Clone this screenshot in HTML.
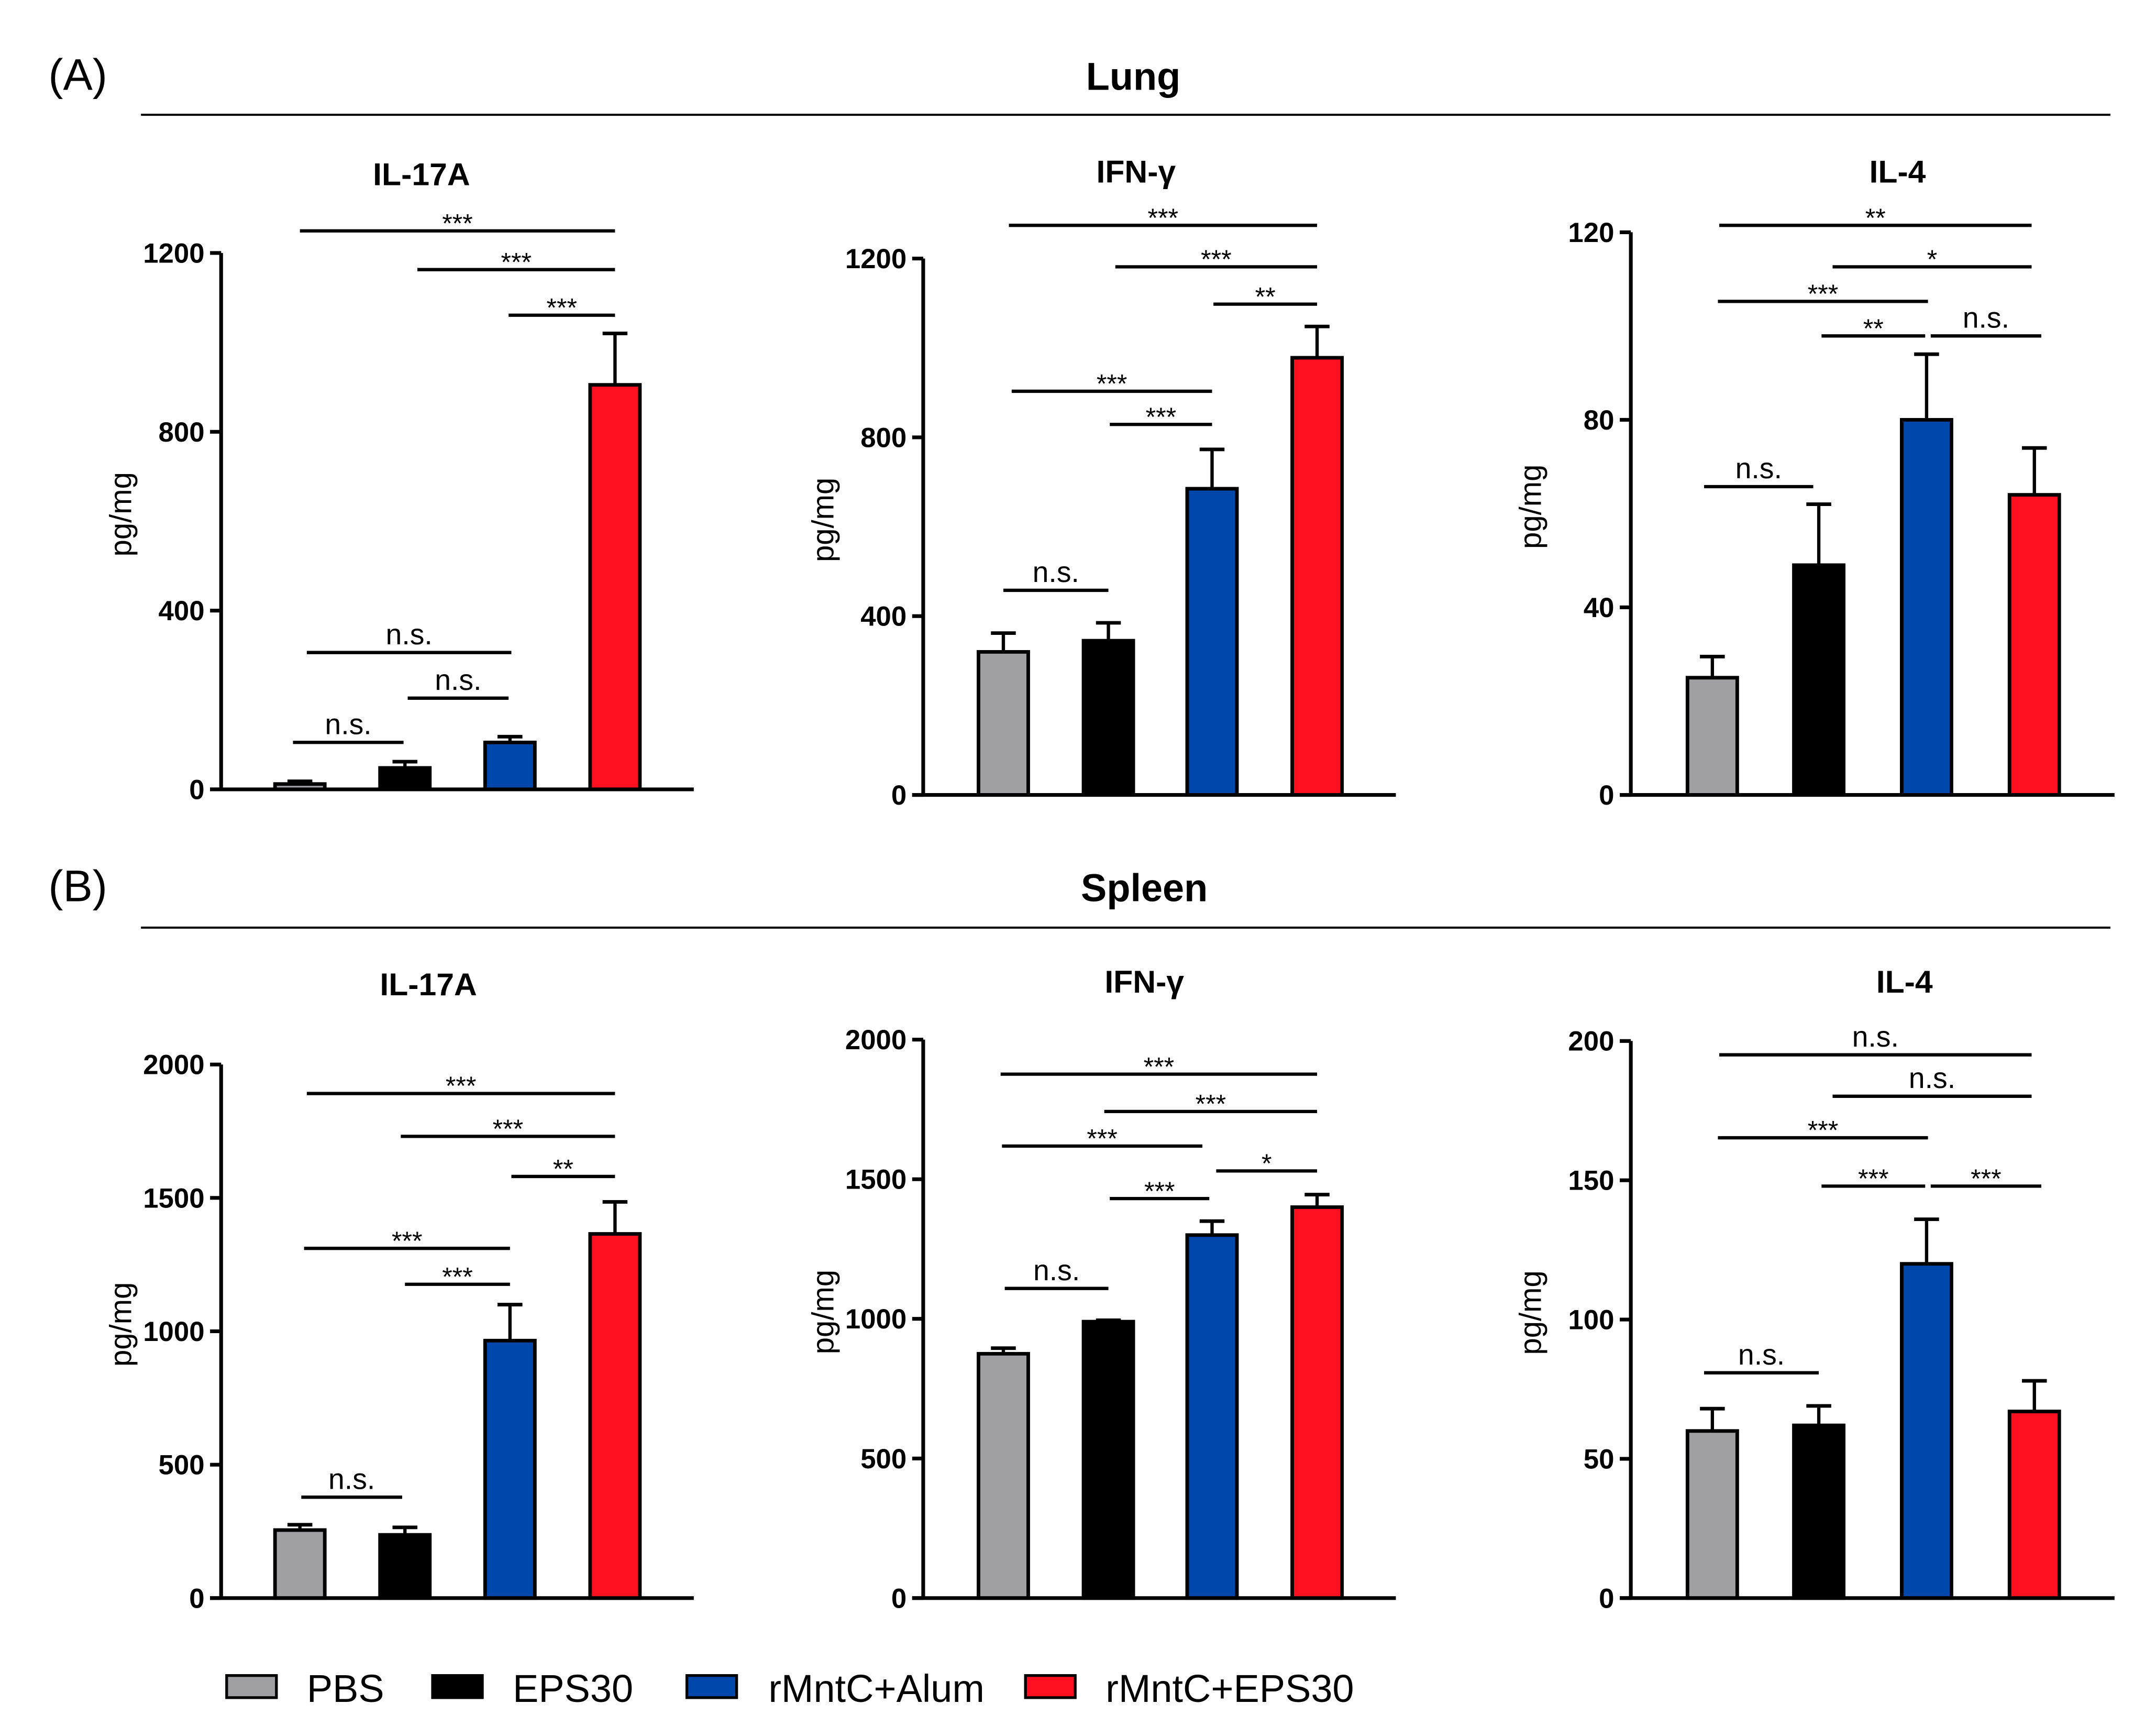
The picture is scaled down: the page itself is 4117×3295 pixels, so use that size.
<!DOCTYPE html>
<html><head><meta charset="utf-8"><style>
html,body{margin:0;padding:0;background:#fff}
svg{display:block}
text{font-family:"Liberation Sans",Arial,sans-serif;fill:#000}
</style></head><body>
<svg id="chart" xmlns="http://www.w3.org/2000/svg" width="4117" height="3295" viewBox="0 0 1560 1248.5">
<text x="35" y="65" font-size="32">(A)</text>
<text x="820" y="65" font-size="28" font-weight="bold" text-anchor="middle">Lung</text>
<line x1="102" y1="83" x2="1527" y2="83" stroke="#000" stroke-width="1.5"/>
<text x="35" y="652" font-size="32">(B)</text>
<text x="828" y="652" font-size="28" font-weight="bold" text-anchor="middle">Spleen</text>
<line x1="102" y1="671" x2="1527" y2="671" stroke="#000" stroke-width="1.5"/>
<g id="panels"></g>
<g>
 <rect x="164" y="1212" width="36" height="16" fill="#a0a0a4" stroke="#000" stroke-width="2"/>
 <text x="222" y="1231" font-size="28">PBS</text>
 <rect x="313" y="1212" width="36" height="16" fill="#000" stroke="#000" stroke-width="2"/>
 <text x="371" y="1231" font-size="28">EPS30</text>
 <rect x="497" y="1212" width="36" height="16" fill="#0047ab" stroke="#000" stroke-width="2"/>
 <text x="556" y="1231" font-size="28">rMntC+Alum</text>
 <rect x="742" y="1212" width="36" height="16" fill="#ff1020" stroke="#000" stroke-width="2"/>
 <text x="800" y="1231" font-size="28">rMntC+EPS30</text>
</g>
</svg>
<script>
var groups = ['PBS','EPS30','rMntC+Alum','rMntC+EPS30'];
var colors = ['#a0a0a4','#000000','#0047ab','#ff1020'];
var lungIL17Means = [12, 48, 105, 905];
var lungIL17Err = [18, 62, 118, 1020];
var lungIL17Ticks = [0, 400, 800, 1200];
var lungIFNMeans = [320, 345, 685, 978];
var lungIFNErr = [362, 385, 773, 1048];
var lungIFNTicks = [0, 400, 800, 1200];
var lungIL4Means = [25, 49, 80, 64];
var lungIL4Err = [29.5, 62, 94, 74];
var lungIL4Ticks = [0, 40, 80, 120];
var spleenIL17Means = [255, 237, 965, 1365];
var spleenIL17Err = [275, 265, 1100, 1485];
var spleenIL17Ticks = [0, 500, 1000, 1500, 2000];
var spleenIFNMeans = [875, 990, 1300, 1400];
var spleenIFNErr = [895, 995, 1350, 1445];
var spleenIFNTicks = [0, 500, 1000, 1500, 2000];
var spleenIL4Means = [60, 62, 120, 67];
var spleenIL4Err = [68, 69, 136, 78];
var spleenIL4Ticks = [0, 50, 100, 150, 200];

var panels = [
 {id:'lung-il17a', title:'IL-17A', tx:305, ty:134, ax:160, y0:571, ytop:183, xend:502, c:[217,293,369,445], m:lungIL17Means, e:lungIL17Err, t:lungIL17Ticks,
  sig:[[217,445,167,'***'],[302,445,195,'***'],[368,445,228,'***'],[222,370,472,'n.s.'],[295,368,505,'n.s.'],[212,292,537,'n.s.']]},
 {id:'lung-ifng', title:'IFN-γ', tx:822, ty:132, ax:668, y0:575, ytop:187, xend:1010, c:[726,802,877,953], m:lungIFNMeans, e:lungIFNErr, t:lungIFNTicks,
  sig:[[730,953,163,'***'],[807,953,193,'***'],[878,953,220,'**'],[732,877,283,'***'],[803,877,307,'***'],[726,802,427,'n.s.']]},
 {id:'lung-il4', title:'IL-4', tx:1373, ty:132, ax:1180, y0:575, ytop:168, xend:1530, c:[1239,1316,1394,1472], m:lungIL4Means, e:lungIL4Err, t:lungIL4Ticks,
  sig:[[1244,1470,163,'**'],[1326,1470,193,'*'],[1243,1395,218,'***'],[1318,1393,243,'**'],[1397,1477,243,'n.s.'],[1233,1312,352,'n.s.']]},
 {id:'spleen-il17a', title:'IL-17A', tx:310, ty:720, ax:160, y0:1156, ytop:770, xend:502, c:[217,293,369,445], m:spleenIL17Means, e:spleenIL17Err, t:spleenIL17Ticks,
  sig:[[222,445,791,'***'],[290,445,822,'***'],[370,445,851,'**'],[220,369,903,'***'],[293,369,929,'***'],[218,291,1083,'n.s.']]},
 {id:'spleen-ifng', title:'IFN-γ', tx:828, ty:718, ax:668, y0:1156, ytop:752, xend:1010, c:[726,802,877,953], m:spleenIFNMeans, e:spleenIFNErr, t:spleenIFNTicks,
  sig:[[724,953,777,'***'],[799,953,804,'***'],[725,870,829,'***'],[803,875,867,'***'],[880,953,847,'*'],[727,802,932,'n.s.']]},
 {id:'spleen-il4', title:'IL-4', tx:1378, ty:718, ax:1180, y0:1156, ytop:753, xend:1530, c:[1239,1316,1394,1472], m:spleenIL4Means, e:spleenIL4Err, t:spleenIL4Ticks,
  sig:[[1244,1470,763,'n.s.'],[1326,1470,793,'n.s.'],[1243,1395,823,'***'],[1318,1393,858,'***'],[1397,1477,858,'***'],[1233,1316,993,'n.s.']]}
];
var NS='http://www.w3.org/2000/svg';
var root=document.getElementById('panels');
function mk(tag, attrs, parent){var el=document.createElementNS(NS,tag);for(var k in attrs)el.setAttribute(k,attrs[k]);parent.appendChild(el);return el;}
panels.forEach(function(p){
 var g=mk('g',{},root);
 
 
 var tmax=p.t[p.t.length-1];
 function y(v){return p.y0-(v/tmax)*(p.y0-p.ytop);}
 var tt=mk('text',{x:p.tx,y:p.ty,'font-size':23,'font-weight':'bold','text-anchor':'middle'},g);
 tt.textContent=p.title;
 
 
 var yl=mk('text',{x:0,y:0,'font-size':22,'text-anchor':'middle',transform:'translate('+(p.ax-65)+','+((p.y0+p.ytop)/2-5)+') rotate(-90)'},g);
 yl.textContent='pg/mg';
 
 
 p.m.forEach(function(v,i){
  var cx=p.c[i];
  var el=mk('line',{x1:cx,x2:cx,y1:y(v),y2:y(p.e[i]),stroke:'#000','stroke-width':2.4},g);
  
  
  var cap=mk('line',{x1:cx-9,x2:cx+9,y1:y(p.e[i]),y2:y(p.e[i]),stroke:'#000','stroke-width':2.6},g);
  
  
  var r=mk('rect',{x:cx-18,y:y(v),width:36,height:p.y0-y(v),fill:colors[i],stroke:'#000','stroke-width':2.6},g);
  
  
 });
 var ya=mk('line',{x1:p.ax,x2:p.ax,y1:p.ytop,y2:p.y0,stroke:'#000','stroke-width':2.7},g);
 
 
 var xa=mk('line',{x1:p.ax-8,x2:p.xend,y1:p.y0,y2:p.y0,stroke:'#000','stroke-width':2.7},g);
 
 
 p.t.forEach(function(t){
  var tk=mk('line',{x1:p.ax-8,x2:p.ax,y1:y(t),y2:y(t),stroke:'#000','stroke-width':2.7},g);
  
  
  var lb=mk('text',{x:p.ax-12,y:y(t)+7,'font-size':20,'font-weight':'bold','text-anchor':'end'},g);
  lb.textContent=t;
  
  
 });
 p.sig.forEach(function(s){
  var ln=mk('line',{x1:s[0],x2:s[1],y1:s[2],y2:s[2],stroke:'#000','stroke-width':2.4},g);
  
  
  var ns=s[3]==='n.s.';
  var tx=mk('text',{x:(s[0]+s[1])/2,y:ns?s[2]-6:s[2]+1,'font-size':ns?21:19,'text-anchor':'middle'},g);
  tx.textContent=s[3];
  
  
 });
});
</script>
</body></html>
